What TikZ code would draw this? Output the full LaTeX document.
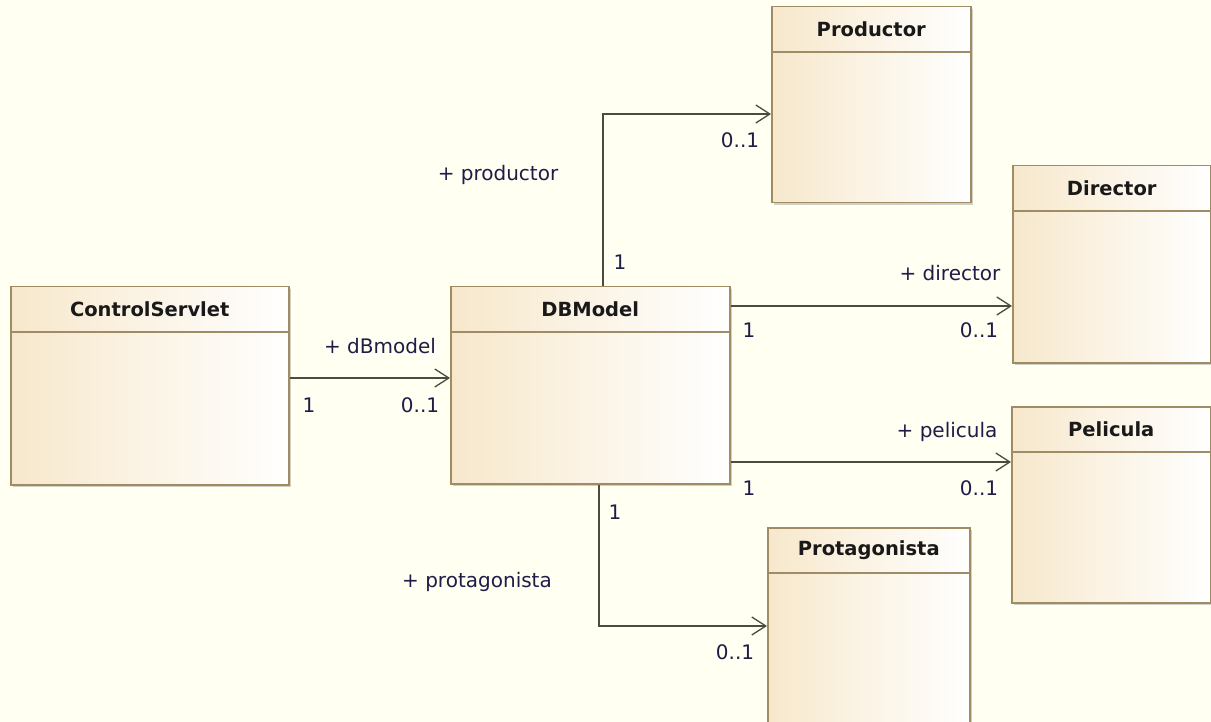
\documentclass[tikz,border=0pt]{standalone}
\usepackage{fontspec}
\setmainfont{DejaVu Sans}
\usetikzlibrary{arrows.meta,shadows,calc}

\definecolor{canvas}{RGB}{255,255,242}
\definecolor{classedge}{RGB}{160,140,100}
\definecolor{classtan}{RGB}{247,232,204}
\definecolor{wire}{RGB}{78,74,62}
\definecolor{labelink}{RGB}{32,28,72}

\tikzset{
  classbox/.style={draw=classedge, line width=1.5pt, left color=classtan, right color=white,
    drop shadow={shadow xshift=2.5pt, shadow yshift=-2.5pt, opacity=0.3, fill=black!60},
    inner sep=0pt, anchor=north west},
  classdiv/.style={draw=classedge, line width=1.3pt},
  classname/.style={font=\bfseries\fontsize{19.5}{22}\selectfont, text=black!90, inner sep=0pt},
  assoc/.style={draw=wire, line width=1.6pt,
    -{Straight Barb[length=14pt, width=18pt, line width=1.3pt]}},
  rolelabel/.style={font=\fontsize{20}{24}\selectfont, text=labelink, inner sep=0pt}
}

% \umlclass{name}{left}{top}{width}{height}{title}
\newcommand{\umlclass}[6]{%
  \node[classbox, minimum width=#4pt, minimum height=#5pt] (#1) at (#2,#3) {};
  \draw[classdiv] ($(#1.north west)+(0,46)$) -- ($(#1.north east)+(0,46)$);
  \node[classname] (#1-title) at ($(#1.north)+(0,23)$) {#6};
}

\begin{document}
\begin{tikzpicture}[x=1pt, y=-1pt]
  \fill[canvas] (0,0) rectangle (1211,722);
  \useasboundingbox (0,0) rectangle (1211,722);
  \clip (0,0) rectangle (1211,722);

  % classes
  \umlclass{cs}{10}{286}{278}{198}{ControlServlet}
  \umlclass{db}{450}{286}{279}{197}{DBModel}
  \umlclass{prod}{771}{6}{199}{196}{Productor}
  \umlclass{dir}{1012}{165}{198}{197}{Director}
  \umlclass{pel}{1011}{406}{199}{196}{Pelicula}
  \umlclass{prot}{767}{527}{202}{196}{Protagonista}

  % associations
  \draw[assoc] (cs.east |- 0,378) -- (db.west |- 0,378);
  \draw[assoc] (db.north -| 603,0) |- (prod.west |- 0,114);
  \draw[assoc] (db.east |- 0,306) -- (dir.west |- 0,306);
  \draw[assoc] (db.east |- 0,462) -- (pel.west |- 0,462);
  \draw[assoc] (db.south -| 599,0) |- (prot.west |- 0,626);

  % role names and multiplicities
  \node[rolelabel] (l-dbm)   at (380,346) {+ dBmodel};
  \node[rolelabel] (m-cs)    at (309,405) {1};
  \node[rolelabel] (m-dbm)   at (420,405) {0..1};

  \node[rolelabel] (l-prod)  at (498,175) {+ productor};
  \node[rolelabel] (m-dbp)   at (620,262) {1};
  \node[rolelabel] (m-prod)  at (740,140) {0..1};

  \node[rolelabel] (l-dir)   at (950,273) {+ director};
  \node[rolelabel] (m-dbd)   at (749,330) {1};
  \node[rolelabel] (m-dir)   at (979,330) {0..1};

  \node[rolelabel] (l-pel)   at (947,432) {+ pelicula};
  \node[rolelabel] (m-dbpe)  at (749,488) {1};
  \node[rolelabel] (m-pel)   at (979,488) {0..1};

  \node[rolelabel] (m-dbpr)  at (615,512) {1};
  \node[rolelabel] (l-prot)  at (477,582) {+ protagonista};
  \node[rolelabel] (m-prot)  at (735,652) {0..1};
\end{tikzpicture}
\end{document}
